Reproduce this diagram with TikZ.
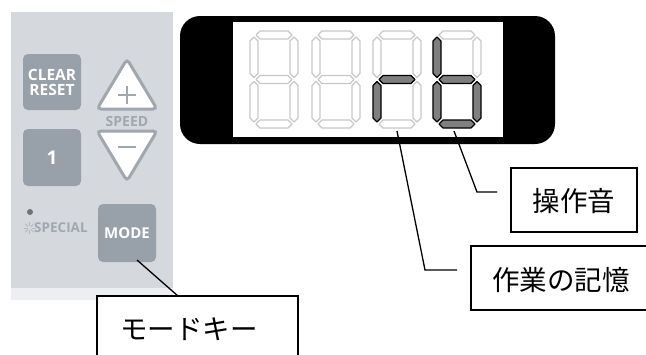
\documentclass[tikz,border=0pt]{standalone}
\usepackage{fontspec}
\setmainfont{Noto Sans CJK JP}
\newfontfamily\lab{Open Sans}[BoldFont={* Bold}]
\definecolor{panelbg}{HTML}{D5D9DE}
\definecolor{panelstrip}{HTML}{EDEEF2}
\definecolor{btn}{HTML}{98A0A9}
\definecolor{tri}{HTML}{A0A7AF}
\definecolor{segoff}{HTML}{C8C8C8}
\definecolor{segon}{HTML}{7F7F7F}
\tikzset{
  keybtn/.style={fill=btn, rounded corners=5pt},
  keytxt/.style={text=white, align=center, inner sep=0pt},
  off/.style={draw=segoff, fill=white, line width=1.3pt, line join=round},
  on/.style={draw=black, fill=segon, line width=1.1pt, line join=round},
  leader/.style={draw=black, line width=1.3pt},
  labbox/.style={draw=black, line width=1.6pt, fill=white},
  jtxt/.style={inner sep=0pt, font=\fontsize{27.5}{28}\selectfont}
}
\newcommand\hsegm[3]{\draw[#1] ({#2},{#3}) -- ++(4,-4) -- ++(28,0) -- ++(4,4) -- ++(-4,4) -- ++(-28,0) -- cycle;}
\newcommand\vsegm[3]{\draw[#1] ({#2},{#3}) -- ++(4,4) -- ++(0,32.5) -- ++(-4,4) -- ++(-4,-4) -- ++(0,-32.5) -- cycle;}
\newcommand\sevdigit[8]{%
  \hsegm{#2}{#1+6}{35}
  \vsegm{#3}{#1+44}{37}
  \vsegm{#4}{#1+44}{81.5}
  \hsegm{#5}{#1+6}{124}
  \vsegm{#6}{#1+4}{81.5}
  \vsegm{#7}{#1+4}{37}
  \hsegm{#8}{#1+6}{79.5}}
\begin{document}
\begin{tikzpicture}[x=1pt,y=-1pt]
\useasboundingbox (0,0) rectangle (646,354);
\clip (0,0) rectangle (646,354);
% control panel
\fill[panelbg] (11,12) rectangle (173,288);
\fill[panelstrip] (11,288) rectangle (173,300);
\fill[keybtn] (23,54) rectangle (81,110);
\node[keytxt, font=\lab\bfseries\fontsize{15.5}{15}\selectfont] (clr) at (52,82) {CLEAR\\RESET};
\fill[keybtn] (23,129) rectangle (81,186);
\node[keytxt, font=\lab\bfseries\fontsize{19}{19}\selectfont] (one) at (52,158) {1};
\fill[keybtn] (98,204) rectangle (156,262);
\node[keytxt, font=\lab\bfseries\fontsize{15}{15}\selectfont] (mode) at (127,233) {MODE};
\draw[tri, fill=white, line width=3pt, rounded corners=4pt] (127,59) -- (157,109) -- (97,109) -- cycle;
\draw[tri, line width=2.6pt] (118,95) -- (136,95) (127,86) -- (127,104);
\node[text=tri, font=\lab\bfseries\fontsize{14}{14}\selectfont, inner sep=0pt] (speed) at (127,121) {SPEED};
\draw[tri, fill=white, line width=3pt, rounded corners=4pt] (97,131) -- (157,131) -- (127,181) -- cycle;
\draw[tri, line width=2.6pt] (118,147) -- (136,147);
\fill[black!55] (30,212) circle (3);
\foreach \a in {0,45,...,315} \draw[tri!80, line width=0.8pt] (29.5,228) ++(\a:2) -- ++(\a:4);
\node[text=tri, font=\lab\bfseries\fontsize{13.5}{14}\selectfont, inner sep=0pt, anchor=west] (special) at (34,228) {SPECIAL};
% display
\fill[black, rounded corners=20pt] (180,16) rectangle (555,144);
\fill[white] (233,22) rectangle (503,137);
\sevdigit{250}{off}{off}{off}{off}{off}{off}{off}
\sevdigit{312}{off}{off}{off}{off}{off}{off}{off}
\sevdigit{373}{off}{off}{off}{off}{on}{off}{on}
\sevdigit{433}{off}{off}{on}{on}{on}{on}{on}
% labels
\draw[labbox] (511,168) rectangle (637,232);
\node[jtxt] (snd) at (574,201) {操作音};
\draw[labbox] (471,246) rectangle (660,310);
\node[jtxt] (mem) at (561,280) {作業の記憶};
\draw[labbox] (97,296) rectangle (298,370);
\node[jtxt] (keytext) at (189,329) {モードキー};
% leaders
\coordinate (rseg) at (397,131);
\coordinate (bseg) at (454,131);
\coordinate (rk) at (425,270);
\coordinate (bk) at (477,192);
\coordinate (mk) at (178,296);
\coordinate (mstart) at (137,260);
\draw[leader] (rseg) -- (rk) -- ++(32,0);
\draw[leader] (bseg) -- (bk) -- ++(20,0);
\draw[leader] (mstart) -- (mk);
\end{tikzpicture}
\end{document}
